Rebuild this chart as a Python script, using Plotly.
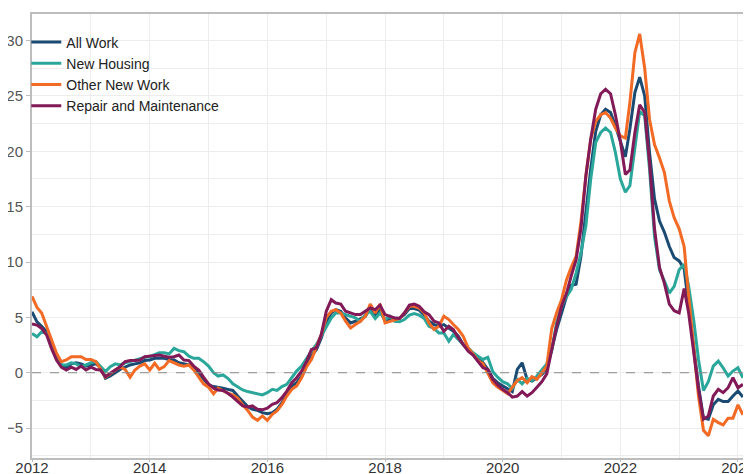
import pandas as pd
import plotly.graph_objects as go

# Monthly dates, Jan 2012 .. Feb 2024
dates = pd.date_range("2012-01-01", periods=146, freq="MS")

all_work = [
    5.5, 4.6, 4.2, 3.7, 2.5, 1.6, 0.7, 0.5, 0.8, 0.9, 0.8, 0.6,
    0.7, 0.8, 0.5, -0.5, -0.3, 0.0, 0.3, 0.5, 0.7, 0.8, 0.9, 1.1,
    1.15, 1.3, 1.3, 1.3, 1.2, 1.15, 0.9, 0.8, 0.7, 0.5, -0.05, -0.65,
    -1.1, -1.25, -1.3, -1.4, -1.5, -1.6, -2.1, -2.6, -3.05, -3.3, -3.4, -3.6,
    -3.7, -3.6, -3.3, -2.7, -1.95, -1.2, -0.9, -0.3, 0.75, 1.5, 2.1, 3.15,
    4.5, 5.4, 5.7, 5.55, 4.95, 4.5, 4.65, 4.9, 5.1, 5.85, 5.25, 5.7,
    4.65, 4.9, 4.9, 4.95, 5.25, 5.8, 5.8, 5.65, 5.2, 4.65, 4.35, 4.2,
    4.35, 4.05, 3.75, 3.3, 2.55, 2.1, 1.7, 1.3, 0.9, 0.3, -0.5, -0.9,
    -1.2, -1.5, -1.7, 0.3, 0.9, -0.6, -0.75, -0.45, -0.15, 0.3, 2.2, 3.9,
    5.4, 6.9, 7.9, 8.0, 10.5, 14.5, 18.4, 21.8, 23.3, 23.8, 23.5, 22.3,
    20.8, 19.5, 22.0, 25.3, 26.7, 25.0, 19.9, 15.7, 13.7, 12.7, 11.4, 10.4,
    10.1, 9.4, 6.0, 2.4, -1.2, -4.1, -4.2, -2.9, -2.4, -2.6, -2.6, -2.1,
    -1.65, -2.2,
]

new_housing = [
    3.55, 3.25, 3.7, 3.55, 2.65, 1.6, 0.7, 0.7, 0.9, 0.8, 0.55, 0.7,
    0.9, 1.0, 0.55, 0.1, 0.55, 0.8, 0.7, 0.9, 1.0, 1.15, 1.3, 1.4,
    1.45, 1.6, 1.8, 1.8, 1.7, 2.2, 2.0, 1.9, 1.5, 1.3, 1.3, 1.0,
    0.6, 0.0, -0.3, -0.2, -0.5, -1.0, -1.3, -1.55, -1.7, -1.8, -1.85, -2.0,
    -1.8, -1.5, -1.6, -1.25, -1.05, -0.45, 0.15, 0.6, 1.35, 1.95, 2.55, 3.3,
    4.2, 4.95, 5.4, 5.4, 5.25, 5.1, 4.95, 4.65, 5.25, 5.55, 4.9, 5.4,
    4.8, 5.1, 4.65, 4.6, 4.8, 5.2, 5.35, 5.2, 4.9, 4.2, 4.0, 3.6,
    3.6, 2.85, 3.45, 3.0, 2.55, 2.25, 1.8, 1.5, 1.2, 1.4, 0.1, -0.4,
    -0.8, -1.0, -1.4, -0.6, -1.0, -0.5, -0.7, -0.3, 0.3, 0.8, 2.0, 4.5,
    6.0, 6.9, 7.5, 9.0, 10.8, 13.3, 17.5, 20.8, 21.7, 22.1, 21.7, 19.9,
    17.5, 16.3, 16.9, 20.5, 23.6, 23.2, 18.4, 12.3, 9.3, 8.3, 7.2, 7.8,
    9.3, 9.8, 7.8, 4.8, 1.2, -1.6, -0.8, 0.6, 1.05, 0.45, -0.3, 0.15,
    0.45, -0.45,
]

other_new_work = [
    6.9, 5.9, 5.4, 4.2, 3.0, 1.75, 1.0, 1.15, 1.45, 1.45, 1.45, 1.2,
    1.2, 1.0, 0.3, -0.4, -0.1, 0.25, 0.5, 0.3, -0.4, 0.25, 0.6, 0.8,
    0.25, 0.85, 0.3, 0.55, 1.1, 0.9, 0.7, 0.6, 0.7, 0.25, -0.4, -1.0,
    -1.3, -1.9, -1.4, -1.65, -1.85, -2.0, -2.3, -2.9, -3.4, -4.0, -4.3, -3.9,
    -4.3, -3.75, -3.45, -2.85, -2.1, -1.5, -1.2, -0.45, 0.55, 1.2, 2.4, 3.45,
    5.0, 5.55, 5.7, 5.4, 4.65, 4.05, 4.35, 4.65, 5.1, 6.2, 5.4, 6.2,
    4.5, 4.65, 4.8, 4.9, 5.4, 6.0, 6.0, 5.85, 5.4, 4.5, 3.9, 4.2,
    5.1, 4.8, 4.35, 3.9, 3.3, 2.25, 1.7, 1.1, 0.8, 0.0, -0.9, -1.3,
    -1.6, -1.9, -1.3, -0.7, -0.45, -0.9, -0.35, -0.6, 0.0, 0.6, 4.0, 5.4,
    6.6, 8.4, 9.5, 10.5, 13.6, 17.8, 21.1, 22.7, 23.3, 23.5, 23.0, 22.1,
    21.4, 21.2, 24.4, 28.9, 30.6, 27.5, 22.9, 20.6, 19.4, 18.1, 15.5, 14.0,
    13.0, 11.4, 6.9, 2.4, -2.1, -5.2, -5.7, -4.2, -4.5, -4.7, -4.1, -4.1,
    -2.9, -3.8,
]

repair_maintenance = [
    4.4, 4.3, 4.0, 3.4, 2.2, 1.15, 0.5, 0.25, 0.5, 0.3, 0.6, 0.25,
    0.5, 0.3, 0.25, -0.35, -0.05, 0.25, 0.55, 1.0, 1.1, 1.1, 1.15, 1.45,
    1.5, 1.5, 1.6, 1.5, 1.4, 1.45, 1.6, 1.15, 1.1, 0.6, 0.25, -0.4,
    -1.0, -1.4, -1.55, -1.6, -1.85, -2.2, -2.6, -3.0, -3.1, -3.0, -3.3, -3.35,
    -3.2, -2.85, -2.7, -2.25, -1.65, -0.9, -0.45, 0.15, 1.05, 2.1, 2.25, 3.45,
    5.55, 6.6, 6.3, 6.2, 5.55, 5.4, 5.25, 5.25, 5.55, 5.85, 5.7, 6.1,
    5.25, 5.1, 4.95, 4.9, 5.4, 6.1, 6.2, 6.0, 5.5, 5.25, 4.65, 4.5,
    3.75, 4.2, 3.9, 3.15, 2.55, 1.95, 1.6, 1.0, 0.45, 0.3, -0.6, -1.1,
    -1.5, -1.8, -2.2, -2.1, -1.7, -2.1, -1.8, -1.3, -0.8, -0.1, 2.2, 4.2,
    6.0, 7.2, 8.7, 10.2, 13.0, 17.8, 21.1, 23.8, 25.2, 25.6, 25.2, 23.3,
    20.9, 17.9, 18.3, 21.7, 24.2, 23.5, 19.0, 13.0, 9.5, 8.1, 6.2, 5.6,
    5.4, 7.6, 5.4, 1.8, -1.5, -4.2, -3.9, -2.1, -1.5, -1.8, -1.35, -0.45,
    -1.35, -1.05,
]

series_names = ["All Work", "New Housing", "Other New Work", "Repair and Maintenance"]
series_values = [all_work, new_housing, other_new_work, repair_maintenance]
colors = ["#1b4b73", "#2aa79a", "#f26a24", "#821a58"]

x_tick_vals = ["2012-01-01", "2014-01-01", "2016-01-01", "2018-01-01",
               "2020-01-01", "2022-01-01", "2024-01-01"]
x_tick_text = ["2012", "2014", "2016", "2018", "2020", "2022", "2024"]
y_tick_vals = [-5, 0, 5, 10, 15, 20, 25, 30]

fig = go.Figure()
for name, vals, col in zip(series_names, series_values, colors):
    fig.add_trace(go.Scatter(
        x=dates, y=vals, mode="lines", name=name,
        line=dict(color=col, width=3),
    ))

fig.add_shape(type="line", xref="paper", yref="y", x0=0, x1=1, y0=0, y1=0,
              line=dict(color="#888888", width=1, dash="dash"), layer="above")

grid = "#ededed"
# The page body adds an 8px offset, so the figure is sized to fill the rest of the window.
fig.update_layout(
    width=743, height=466,
    margin=dict(l=24, r=5, t=6, b=16, autoexpand=False),
    paper_bgcolor="white", plot_bgcolor="white",
    font=dict(family="Liberation Sans, Arial, sans-serif", size=14, color="#333333"),
    showlegend=True,
    legend=dict(x=-0.008, y=0.972, xanchor="left", yanchor="top",
                bgcolor="rgba(255,255,255,0)", font=dict(size=14, color="#222222"),
                itemwidth=30, tracegroupgap=0),
    xaxis=dict(
        type="date",
        automargin=False,
        range=["2012-01-01", "2024-02-20"],
        tickvals=x_tick_vals, ticktext=x_tick_text,
        ticklabeloverflow="allow",
        ticklabelstandoff=-7,
        showgrid=True, gridcolor=grid, gridwidth=1,
        minor=dict(dtick="M12", tick0="2012-01-01", showgrid=True, gridcolor=grid, gridwidth=1),
        showline=True, linecolor="#bdbdbd", linewidth=2, mirror=True,
        ticks="outside", ticklen=2, tickcolor="#bdbdbd",
        tickfont=dict(size=15, color="#333333"),
        zeroline=False,
    ),
    yaxis=dict(
        automargin=False,
        range=[-7.7, 32.4],
        tickvals=y_tick_vals,
        ticklabeloverflow="allow",
        showgrid=True, gridcolor=grid, gridwidth=1,
        minor=dict(dtick=2.5, tick0=0, showgrid=True, gridcolor=grid, gridwidth=1),
        showline=True, linecolor="#bdbdbd", linewidth=2, mirror=True,
        ticks="outside", ticklen=4, tickcolor="#bdbdbd",
        tickfont=dict(size=15, color="#555555"),
        zeroline=False,
    ),
)

fig.write_html("out.html")
